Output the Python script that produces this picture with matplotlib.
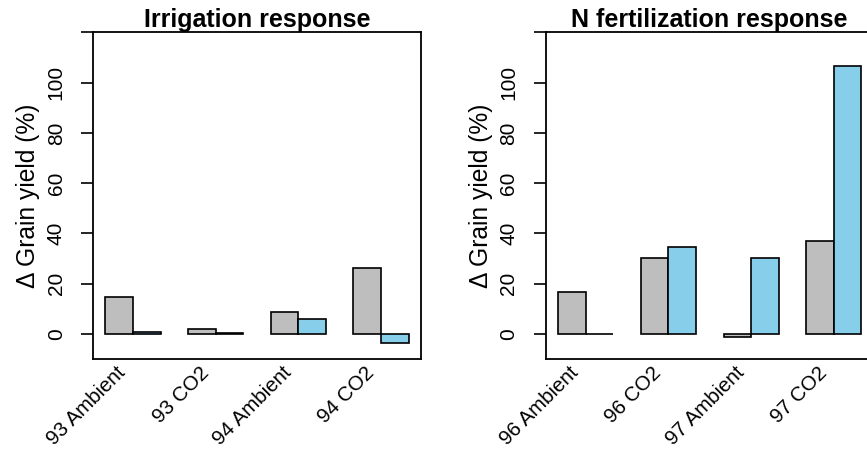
import numpy as np
import matplotlib.pyplot as plt
import matplotlib.transforms as mtransforms

# grain yield change (%)
irr_labels = ['93 Ambient', '93 CO2', '94 Ambient', '94 CO2']
irr_gray = [14.7, 2.0, 8.6, 26.3]
irr_blue = [0.9, 0.3, 6.0, -3.6]

n_labels = ['96 Ambient', '96 CO2', '97 Ambient', '97 CO2']
n_gray = [16.7, 30.3, -1.3, 37.1]
n_blue = [0.1, 34.5, 30.1, 106.4]

yticks = [0, 20, 40, 60, 80, 100, 120]

plt.rcParams['font.family'] = ['Liberation Sans', 'DejaVu Sans']

fig = plt.figure(figsize=(8.67, 4.5), dpi=100)
ax1 = fig.add_axes([0.1076, 0.2022, 0.3776, 0.726])
ax2 = fig.add_axes([0.6298, 0.2022, 0.3776, 0.726])


def draw_panel(ax, title, labels, gray, blue):
    # R barplot(beside=TRUE): bar width 1, one unit gap between groups
    n = len(labels)
    left = 1 + 3 * np.arange(n)
    ax.bar(left, gray, width=1, align='edge', color='#BEBEBE',
           edgecolor='black', linewidth=1.2)
    ax.bar(left + 1, blue, width=1, align='edge', color='#87CEEB',
           edgecolor='black', linewidth=1.2)
    ax.set_xlim(0.56, 12.44)
    ax.set_ylim(-10, 120)

    ax.set_yticks(yticks)
    ax.set_yticklabels([str(v) for v in yticks[:-1]] + [''])
    ax.tick_params(axis='y', length=8.9, width=1.2, pad=11, labelsize=15,
                   labelrotation=90)
    for lab in ax.get_yticklabels():
        lab.set_va('center')

    ax.set_xticks(left + 1)
    ax.set_xticklabels(labels, rotation=45, ha='right', va='center',
                       rotation_mode='anchor', fontsize=14.8)
    ax.tick_params(axis='x', length=0, pad=8)
    shift = mtransforms.ScaledTranslation(-10 / 100, 0, fig.dpi_scale_trans)
    for lab in ax.get_xticklabels():
        lab.set_transform(lab.get_transform() + shift)

    for s in ax.spines.values():
        s.set_linewidth(1.3)

    ax.set_title(title, fontsize=18, fontweight='bold', pad=2)
    ax.text(-0.198, 0.5, '\u0394 Grain yield (%)', transform=ax.transAxes,
            rotation=90, ha='center', va='center', fontsize=17.7)


draw_panel(ax1, 'Irrigation response', irr_labels, irr_gray, irr_blue)
draw_panel(ax2, 'N fertilization response', n_labels, n_gray, n_blue)

fig.savefig('out.png', dpi=100)
